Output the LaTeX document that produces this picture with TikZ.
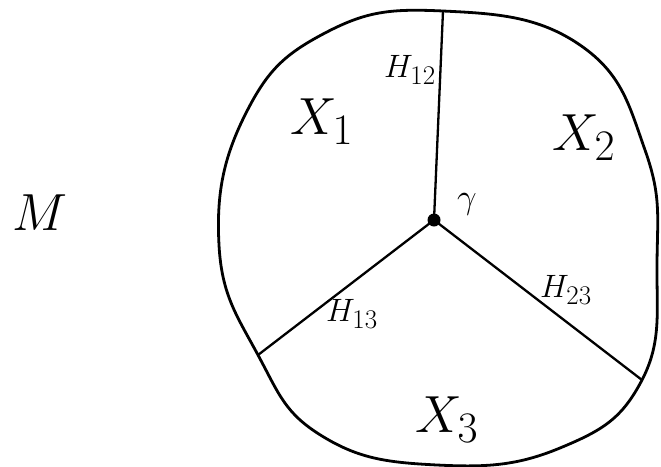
\documentclass[tikz,border=0pt]{standalone}
\usepackage{fontspec}

\begin{document}
\begin{tikzpicture}[
    x=1pt,
    y=-1pt,
    line cap=round,
    line join=round,
]
\tikzset{
    rim/.style={draw=black,line width=2.8pt},
    cut/.style={draw=black,line width=2.3pt},
    region/.style={font=\Huge,scale=2.1},
    face/.style={font=\Huge,scale=1.3},
}

\useasboundingbox (0,0) rectangle (661,466);

% outline of M
\draw[rim] plot[smooth cycle,tension=0.75] coordinates {
    (443,11) (580,45) (645,150) (657,262) (642,380) (560,448)
    (437,465) (322,436) (258,355) (219,245) (245,115) (325,33)
};

% triple point and the three walls
\coordinate (top) at (443,11);
\coordinate (left) at (258,355);
\coordinate (right) at (642,380);
\node[circle,fill=black,inner sep=0pt,minimum size=13pt] (gamma) at (434,220) {};

\draw[cut] (gamma.center) -- (top);
\draw[cut] (gamma.center) -- (left);
\draw[cut] (gamma.center) -- (right);

% labels
\node[region] (m) at (40,213) {$M$};
\node[region] (x1) at (322,122) {$X_1$};
\node[region] (x2) at (584,138) {$X_2$};
\node[region] (x3) at (447,420) {$X_3$};
\node[face] (h12) at (410,70) {$H_{12}$};
\node[face] (h13) at (352,314) {$H_{13}$};
\node[face] (h23) at (566,290) {$H_{23}$};
\node[font=\Huge,scale=1.4] (g) at (467,204) {$\gamma$};
\end{tikzpicture}
\end{document}
